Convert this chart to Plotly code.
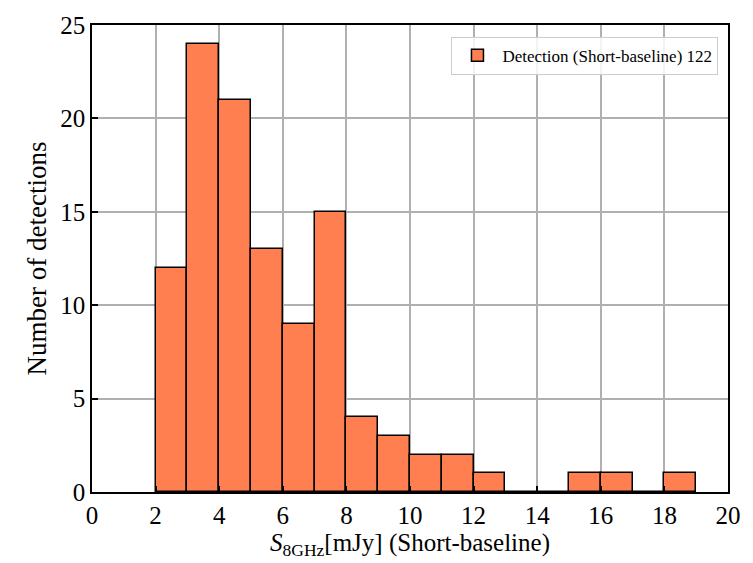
import plotly.graph_objects as go

bin_left = [2, 3, 4, 5, 6, 7, 8, 9, 10, 11, 12, 13, 14, 15, 16, 17, 18]
counts = [12, 24, 21, 13, 9, 15, 4, 3, 2, 2, 1, 0, 0, 1, 1, 0, 1]
bin_width = 1
x_ticks = [0, 2, 4, 6, 8, 10, 12, 14, 16, 18, 20]
y_ticks = [0, 5, 10, 15, 20, 25]

centers = [b + bin_width / 2 for b in bin_left]

fig = go.Figure()
fig.add_trace(go.Bar(
    x=centers, y=counts, width=bin_width,
    marker=dict(color="#FF7F50", line=dict(color="black", width=1.5)),
    name="Detection (Short-baseline) 122",
    showlegend=True,
))

font_family = "Liberation Serif, Times New Roman, serif"
fig.update_layout(
    width=753, height=563,
    margin=dict(l=92, r=25, t=18, b=71),
    paper_bgcolor="white", plot_bgcolor="white",
    font=dict(family=font_family, color="black", size=25),
    bargap=0,
    showlegend=True,
    legend=dict(
        x=0.985, y=0.975, xanchor="right", yanchor="top",
        bgcolor="rgba(255,255,255,0.85)", bordercolor="#cccccc", borderwidth=1,
        font=dict(size=17, family=font_family),
        itemwidth=40,
    ),
    xaxis=dict(
        range=[0, 20], tickvals=x_ticks, ticks="inside", ticklen=6, tickwidth=1.5,
        tickcolor="black", showline=True, linecolor="black", linewidth=1.5, mirror=True,
        showgrid=True, gridcolor="#b0b0b0", gridwidth=1.5, zeroline=False,
        tickfont=dict(size=25),
        title=dict(text="<i>S</i><sub>8GHz</sub>[mJy] (Short-baseline)", font=dict(size=25), standoff=4),
    ),
    yaxis=dict(
        range=[0, 25], tickvals=y_ticks, ticks="inside", ticklen=6, tickwidth=1.5,
        tickcolor="black", showline=True, linecolor="black", linewidth=1.5, mirror=True,
        showgrid=True, gridcolor="#b0b0b0", gridwidth=1.5, zeroline=False,
        tickfont=dict(size=25),
        title=dict(text="Number of detections", font=dict(size=27), standoff=6),
    ),
)

fig.write_html("out.html")
